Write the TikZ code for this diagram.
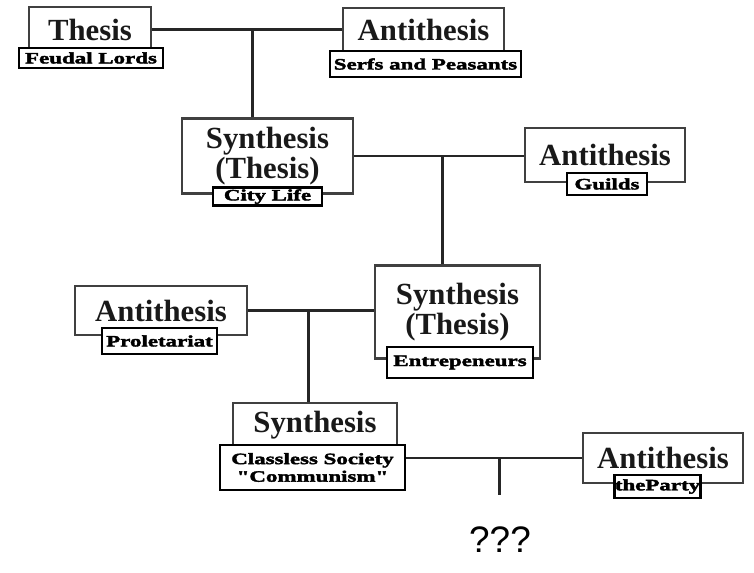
\documentclass[tikz,border=0pt]{standalone}
\usepackage{fontspec}
\setmainfont{Liberation Serif}
\setsansfont{Liberation Sans}
\newfontfamily\lblfont[FakeStretch=1.45,FakeBold=2.5]{Liberation Serif}
\usetikzlibrary{calc}
\newcommand\pxu{0.02cm}

\begin{document}
\begin{tikzpicture}[x=0.02cm,y=-0.02cm,inner sep=0pt,
    bigbox/.style={draw=black!75,line width=1.3pt,align=center,
        text=black!90,font=\fontsize{17.5}{17}\selectfont\bfseries},
    tagbox/.style={draw=black,line width=1.6pt,fill=white,align=center,
        font=\lblfont\fontsize{9}{10}\selectfont\bfseries},
    link/.style={line width=1.4pt,draw=black!85}]
        \useasboundingbox (0,0) rectangle (754,572);
        % the big boxes
        \draw node [bigbox,minimum width=122*\pxu,minimum height=45*\pxu]
            (Thes) at (90,29.5) {Thesis};
        \draw node [bigbox,minimum width=161*\pxu,minimum height=44*\pxu]
            (Anti1) at (423.5,30) {Antithesis};
        \draw node [bigbox,minimum width=171*\pxu,minimum height=75*\pxu]
            (Syn1) at (267.5,156) {Synthesis\\(Thesis)};
        \draw node [bigbox,minimum width=160*\pxu,minimum height=54*\pxu]
            (Anti2) at (605,155) {Antithesis};
        \draw node [bigbox,minimum width=172*\pxu,minimum height=49*\pxu]
            (Anti3) at (161,310.5) {Antithesis};
        \draw node [bigbox,minimum width=165*\pxu,minimum height=93*\pxu]
            (Syn2) at (457.5,312) {Synthesis\\(Thesis)};
        \draw node [bigbox,minimum width=164*\pxu,minimum height=44*\pxu]
            (Syn3) at (315,425) {Synthesis};
        \draw node [bigbox,minimum width=160*\pxu,minimum height=50*\pxu]
            (Anti4) at (663,458) {Antithesis};
        % the tags below them
        \draw node [tagbox,minimum width=144*\pxu,minimum height=20*\pxu]
            (LThes) at (91,58) {Feudal Lords};
        \draw node [tagbox,minimum width=191*\pxu,minimum height=26*\pxu]
            (LAnti1) at (425.5,64) {Serfs and Peasants};
        \draw node [tagbox,minimum width=109*\pxu,minimum height=18*\pxu]
            (LSyn1) at (267.5,196.5) {City Life};
        \draw node [tagbox,minimum width=80*\pxu,minimum height=22*\pxu]
            (LAnti2) at (607,184) {Guilds};
        \draw node [tagbox,minimum width=115*\pxu,minimum height=26*\pxu]
            (LAnti3) at (159.5,341) {Proletariat};
        \draw node [tagbox,minimum width=146*\pxu,minimum height=31*\pxu]
            (LSyn2) at (460,362.5) {Entrepeneurs};
        \draw node [tagbox,minimum width=185*\pxu,minimum height=45*\pxu]
            (LSyn3) at (312.5,467.5) {Classless Society\\"Communism"};
        \draw node [tagbox,minimum width=71*\pxu,minimum height=23*\pxu]
            (LAnti4) at (657.5,486.5) {theParty};
        \node [font=\sffamily\fontsize{21}{24}\selectfont] (Q) at (500,540) {???};
        % the links
        \coordinate (E1) at (Thes.east -| Anti1.west);
        \coordinate (J1) at ($(Thes.east)!0.53!(E1)$);
        \draw [link] (Thes.east) -- (E1);
        \draw [link] (J1) -- (J1 |- Syn1.north);
        \coordinate (E2) at (Syn1.east -| Anti2.west);
        \coordinate (J2) at ($(Syn1.east)!0.52!(E2)$);
        \draw [link] (Syn1.east) -- (E2);
        \draw [link] (J2) -- (J2 |- Syn2.north);
        \coordinate (E3) at (Anti3.east -| Syn2.west);
        \coordinate (J3) at ($(Anti3.east)!0.48!(E3)$);
        \draw [link] (Anti3.east) -- (E3);
        \draw [link] (J3) -- (J3 |- Syn3.north);
        \coordinate (E4) at (Anti4.west -| LSyn3.east);
        \coordinate (J4) at ($(E4)!0.53!(Anti4.west)$);
        \coordinate (QEnd) at (J4 |- 0,495);
        \draw [link] (E4) -- (Anti4.west);
        \draw [link] (J4) -- (QEnd);
\end{tikzpicture}
\end{document}
